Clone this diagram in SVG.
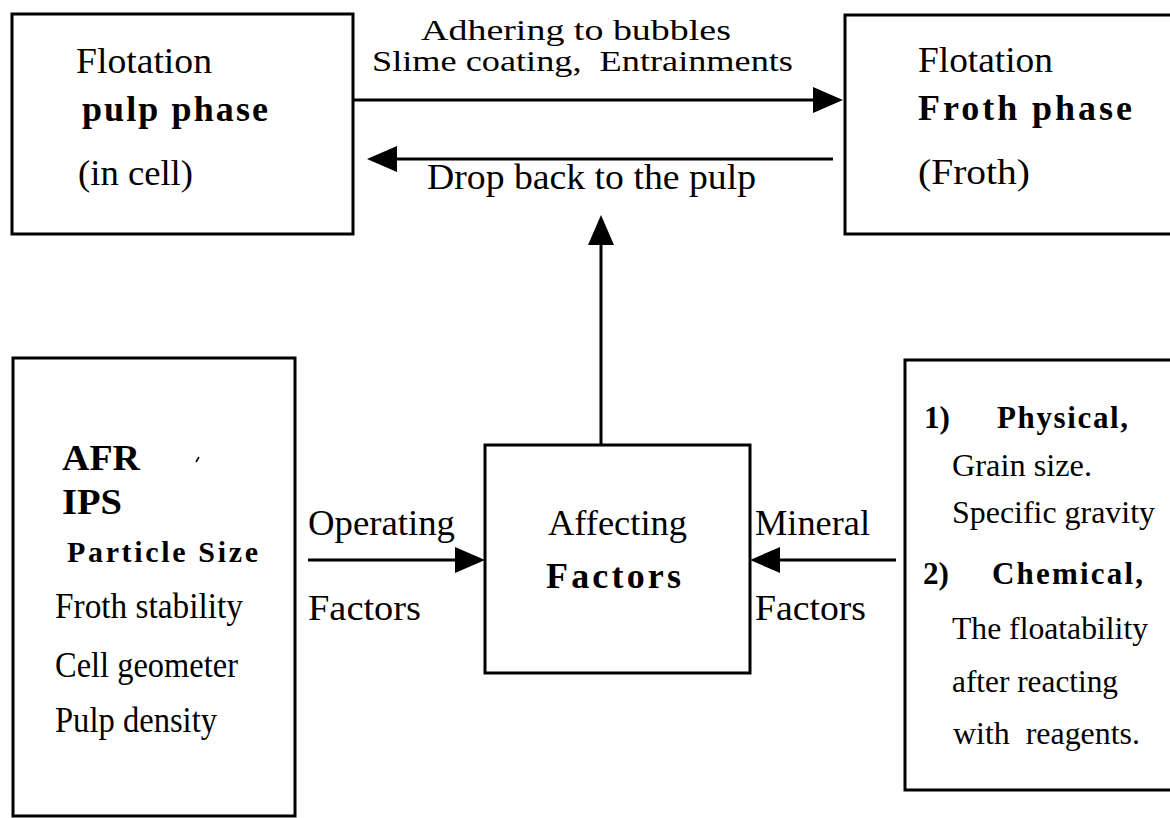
<svg xmlns="http://www.w3.org/2000/svg" width="1170" height="818" viewBox="0 0 1170 818">
<defs>
<style>
.box{fill:none;stroke:#000;stroke-width:3}
.ln{fill:none;stroke:#000;stroke-width:3}
text{font-family:"Liberation Serif","Times New Roman",serif;fill:#000}
.t{font-size:36px}
.s{font-size:32px}
.b{font-weight:bold}
.top{font-size:29px}
</style>
<marker id="ah" viewBox="0 0 30 26" refX="25" refY="13" markerWidth="30" markerHeight="26" markerUnits="userSpaceOnUse" orient="auto">
<path d="M0,0 L30,13 L0,26 Z" fill="#000"/>
</marker>
</defs>
<rect width="1170" height="818" fill="#fff"/>

<g id="pulp">
<rect class="box" x="12" y="14" width="341" height="220"/>
<text class="t" x="76" y="73" textLength="136" lengthAdjust="spacingAndGlyphs">Flotation</text>
<text class="b" x="82" y="121" textLength="186" lengthAdjust="spacing" style="font-size:36px">pulp phase</text>
<text class="t" x="78" y="185" textLength="115" lengthAdjust="spacingAndGlyphs">(in cell)</text>
</g>

<g id="froth">
<rect class="box" x="845" y="15" width="340" height="219"/>
<text class="t" x="918" y="72" textLength="135" lengthAdjust="spacingAndGlyphs">Flotation</text>
<text class="b" x="918" y="120" textLength="214" lengthAdjust="spacing" style="font-size:36px">Froth phase</text>
<text class="t" x="918" y="184" textLength="112" lengthAdjust="spacingAndGlyphs">(Froth)</text>
</g>

<g id="operating">
<rect class="box" x="13" y="358" width="282" height="458"/>
<text class="b" x="62" y="470" textLength="78" lengthAdjust="spacingAndGlyphs" style="font-size:35px">AFR</text>
<text class="b" x="62" y="514" textLength="60" lengthAdjust="spacingAndGlyphs" style="font-size:35px">IPS</text>
<text class="b" x="67" y="562" textLength="191" lengthAdjust="spacing" style="font-size:30px">Particle Size</text>
<text class="t" x="55" y="618" textLength="188" lengthAdjust="spacingAndGlyphs">Froth stability</text>
<text class="t" x="55" y="677" textLength="183" lengthAdjust="spacingAndGlyphs">Cell geometer</text>
<text class="t" x="55" y="732" textLength="162" lengthAdjust="spacingAndGlyphs">Pulp density</text>
<line x1="196" y1="462" x2="199" y2="457" stroke="#000" stroke-width="1.5"/>
</g>

<g id="affecting">
<rect class="box" x="485" y="445" width="265" height="228"/>
<text class="t" x="548" y="535" textLength="139" lengthAdjust="spacingAndGlyphs">Affecting</text>
<text class="b" x="546" y="588" textLength="135" lengthAdjust="spacing" style="font-size:36px">Factors</text>
</g>

<g id="mineral">
<rect class="box" x="905" y="360" width="280" height="430"/>
<text class="b" x="924" y="428" textLength="26" lengthAdjust="spacingAndGlyphs" style="font-size:31px">1)</text>
<text class="b" x="997" y="428" textLength="131" lengthAdjust="spacing" style="font-size:31px">Physical,</text>
<text class="s" x="952" y="476" textLength="140" lengthAdjust="spacingAndGlyphs">Grain size.</text>
<text class="s" x="952" y="523" textLength="203" lengthAdjust="spacingAndGlyphs">Specific gravity</text>
<text class="b" x="923" y="584" textLength="26" lengthAdjust="spacingAndGlyphs" style="font-size:31px">2)</text>
<text class="b" x="992" y="584" textLength="151" lengthAdjust="spacing" style="font-size:31px">Chemical,</text>
<text class="s" x="952" y="639" textLength="196" lengthAdjust="spacingAndGlyphs">The floatability</text>
<text class="s" x="952" y="692" textLength="166" lengthAdjust="spacingAndGlyphs">after reacting</text>
<text class="s" x="953" y="744" textLength="187" lengthAdjust="spacingAndGlyphs">with&#160; reagents.</text>
</g>

<g id="connectors">
<line class="ln" x1="354" y1="100" x2="838" y2="100" marker-end="url(#ah)"/>
<line class="ln" x1="833" y1="159" x2="372" y2="159" marker-end="url(#ah)"/>
<line class="ln" x1="601" y1="445" x2="601" y2="220" marker-end="url(#ah)"/>
<line class="ln" x1="308" y1="560" x2="480" y2="560" marker-end="url(#ah)"/>
<line class="ln" x1="896" y1="560" x2="755" y2="560" marker-end="url(#ah)"/>
<text class="top" x="421" y="40" textLength="310" lengthAdjust="spacingAndGlyphs">Adhering to bubbles</text>
<text class="top" x="372" y="71" textLength="421" lengthAdjust="spacingAndGlyphs">Slime coating,&#160; Entrainments</text>
<text class="t" x="427" y="189" textLength="329" lengthAdjust="spacingAndGlyphs">Drop back to the pulp</text>
<text class="t" x="308" y="535" textLength="147" lengthAdjust="spacingAndGlyphs">Operating</text>
<text class="t" x="308" y="620" textLength="113" lengthAdjust="spacingAndGlyphs">Factors</text>
<text class="t" x="755" y="535" textLength="115" lengthAdjust="spacingAndGlyphs">Mineral</text>
<text class="t" x="755" y="620" textLength="111" lengthAdjust="spacingAndGlyphs">Factors</text>
</g>
</svg>
